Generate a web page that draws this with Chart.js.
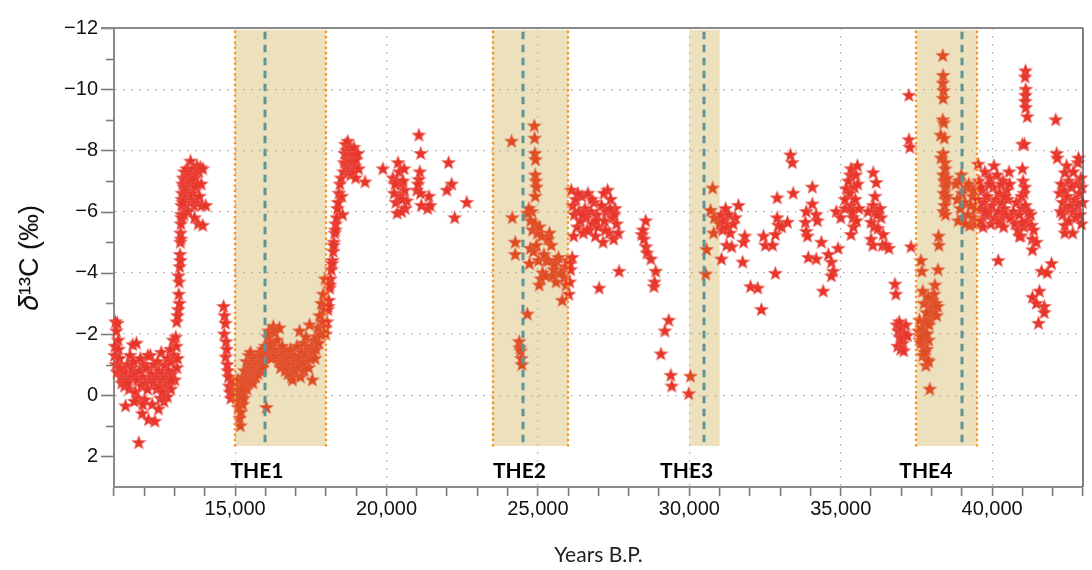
<!DOCTYPE html>
<html>
<head>
<meta charset="utf-8">
<script src="https://cdn.jsdelivr.net/npm/chart.js@4/dist/chart.umd.min.js"></script>
<style>
  body { margin: 0; background: #fff; }
  #wrap { width: 1092px; height: 570px; }
</style>
</head>
<body>
<div id="wrap"><canvas id="chart" width="1092" height="570"></canvas></div>
<script>
// delta13C record, [years B.P., d13C permil]
const lateGlacial = [
  [11020,-1.3],[11050,-2.4],[11080,-2.1],[11110,-2.35],[11140,-1.8],[11030,-1.6],[11060,-1.0],[11100,-0.75],
  [11150,-1.5],[11180,-1.2],[11200,-0.9],[11230,-0.6],[11260,-0.4],[11290,-0.8],[11320,-0.5],[11350,-0.3],
  [11380,0.35],[11410,-0.7],[11440,-1.0],[11470,-0.5],[11500,-0.2],[11530,-1.3],[11560,-0.6],[11590,-0.9],
  [11620,-1.65],[11650,-1.1],[11680,-0.7],[11710,-0.1],[11740,-1.7],[11770,-0.5],[11800,0.1],[11820,1.55],
  [11840,-0.8],[11870,-1.2],[11900,-0.3],[11930,0.6],[11960,-0.6],[11990,-1.0],[12020,0.15],[12050,-0.4],
  [12080,-0.9],[12110,-0.2],[12140,0.8],[12170,-0.5],[12200,-1.3],[12230,-0.7],[12260,0.3],[12290,-0.4],
  [12320,-1.0],[12350,0.85],[12380,-0.6],[12410,-0.2],[12440,-1.1],[12470,-0.8],[12500,-0.3],[12530,0.1],
  [12560,-1.4],[12590,-0.7],[12620,-0.5],[12650,0.2],[12680,-1.0],[12710,-0.6],[12740,-0.3],[12770,-1.2],
  [12800,-0.8],[12830,-0.4],[12860,-1.5],[12890,-1.1],[12920,-0.7],[12950,-1.8],[12980,-1.3],[13010,-0.5],
  [13040,-1.9],[13060,-1.6],[13080,-0.9],[13100,-1.2],[12880,-0.2],[12760,0.05],[12470,0.45],[11950,0.3],
  [11670,0.2],[12120,-1.3],[11450,-0.4],[12600,-0.1],[12900,-0.5]
];
const bollingRise = [
  [13070,-2.4],[13120,-2.8],[13140,-3.3],[13150,-3.7],[13170,-4.2],[13180,-4.6],[13190,-5.0],[13200,-5.3],
  [13210,-5.6],[13220,-5.9],[13230,-6.2],[13240,-6.4],[13160,-3.0],[13190,-4.4],[13210,-5.1],[13230,-5.8],
  [13250,-6.6],[13260,-6.9],[13280,-7.1],[13300,-6.8],[13320,-7.3],[13340,-6.5],[13360,-7.0],[13380,-6.2],
  [13400,-7.4],[13420,-6.7],[13440,-7.1],[13460,-6.0],[13480,-7.2],[13530,-7.65],[13520,-6.9],[13540,-6.4],
  [13560,-7.3],[13580,-7.0],[13600,-6.6],[13620,-7.4],[13640,-6.2],[13660,-5.8],[13680,-7.1],[13700,-6.8],
  [13720,-6.3],[13740,-7.5],[13760,-6.9],[13780,-5.6],[13800,-7.3],[13820,-6.5],[13850,-7.45],[13880,-6.9],
  [13900,-6.2],[13930,-5.55],[14030,-6.2],[13930,-7.4],[13270,-6.3],[13310,-5.9],[13100,-2.6],[13130,-3.9]
];
const preThe1 = [
  [14620,-2.9],[14650,-2.6],[14680,-2.35],[14640,-2.0],[14700,-1.75],[14720,-1.5],[14690,-1.25],[14740,-1.0],
  [14760,-0.8],[14780,-0.6],[14800,-0.3],[14830,-0.1],[14860,0.1],[14900,-0.2],[14950,-0.4],[14980,0.0]
];
const the1Pts = [
  [15020,-0.3],[15050,0.1],[15080,-0.5],[15100,0.4],[15120,-0.2],[15150,0.75],[15170,1.0],[15190,0.55],
  [15210,0.2],[15230,-0.4],[15250,0.3],[15270,-0.6],[15290,-0.1],[15310,-0.8],[15330,-0.3],[15350,-0.5],
  [15370,-1.1],[15390,-0.2],[15410,-0.7],[15430,-0.4],[15450,-1.3],[15470,-0.6],[15490,-0.9],[15510,-1.4],
  [15530,-0.5],[15550,-0.8],[15570,-1.0],[15590,-0.4],[15610,-0.7],[15630,-1.1],[15650,-0.9],[15670,-0.6],
  [15690,-1.2],[15710,-0.8],[15730,-1.0],[15750,-0.7],[15770,-1.3],[15790,-0.9],[15810,-1.1],[15830,-0.8],
  [15850,-1.4],[15870,-1.0],[15890,-1.2],[15910,-0.9],[15930,-1.5],[15950,-1.1],[15970,-1.3],[15990,-1.6],
  [16030,0.4],[15060,-0.1],[15110,0.2],[15140,-0.1],[15200,0.0],[15240,-0.2],[15280,0.1],
  [16050,-1.4],[16080,-1.9],[16110,-2.1],[16140,-1.5],[16170,-1.7],[16200,-1.2],[16230,-1.6],[16260,-2.25],
  [16290,-1.4],[16320,-2.05],[16350,-1.3],[16380,-1.8],[16460,-2.2],[16440,-1.1],[16470,-1.5],[16500,-0.9],
  [16530,-1.3],[16560,-1.6],[16590,-1.0],[16620,-1.2],[16650,-0.8],[16680,-1.4],[16710,-1.1],[16740,-0.7],
  [16770,-1.3],[16800,-0.9],[16830,-1.5],[16860,-0.6],[16890,-0.5],[16920,-1.0],[16950,-1.3],[16980,-0.8],
  [17010,-1.1],[17040,-1.6],[17070,-0.9],[17100,-1.2],[17130,-2.1],[17160,-0.6],[17190,-1.4],[17220,-1.0],
  [17250,-1.7],[17280,-0.8],[17310,-1.3],[17340,-1.9],[17370,-1.1],[17400,-1.5],[17430,-0.9],[17460,-2.3],
  [17490,-1.2],[17520,-1.6],[17550,-0.5],[17580,-1.4],[17610,-1.8],[17640,-1.2],[17670,-1.5],[17700,-1.9],
  [17730,-2.2],[17760,-1.7],[17790,-2.6],[17820,-2.0],[17850,-3.0],[17880,-2.4],[17910,-3.3],[17940,-2.8],
  [17970,-3.8],[17990,-2.2]
];
const deglacialRise = [
  [17990,-2.0],[18030,-2.4],[18060,-2.8],[18090,-3.1],[18120,-3.5],[18150,-3.8],[18180,-4.1],[18210,-4.4],
  [18240,-4.7],[18260,-5.0],[18290,-5.3],[18320,-5.6],[18350,-5.8],[18380,-6.1],[18070,-2.9],[18130,-3.6],
  [18200,-4.3],[18250,-4.9],[18310,-5.4],[18400,-6.3],[18430,-6.6],[18460,-6.9],[18500,-7.1],[18520,-6.5],
  [18550,-5.9],[18580,-7.3],[18600,-7.6],[18620,-7.9],[18640,-8.2],[18660,-7.5],[18680,-8.0],[18700,-7.7],
  [18720,-8.3],[18740,-7.4],[18760,-7.9],[18780,-8.1],[18800,-7.6],[18820,-7.2],[18840,-8.0],[18860,-7.7],
  [18880,-7.3],[18900,-7.9],[18920,-8.1],[18950,-7.5],[18980,-7.1],[19000,-7.7],[19050,-7.9],[19080,-7.4],
  [19290,-6.97]
];
const glacialScatter = [
  [19880,-7.4],[20210,-7.1],[20380,-7.6],[20310,-6.3],[20670,-6.35],[20600,-6.7],[20330,-7.0],[20420,-7.3],
  [20450,-6.5],[20480,-6.9],[20250,-6.6],[20520,-6.4],[20550,-7.0],[20620,-6.1],[20350,-5.95],[20500,-6.0],
  [20580,-7.4],[20280,-6.9],[21070,-8.5],[21130,-7.9],[21100,-7.3],[21070,-7.05],[21000,-6.7],[21040,-6.9],
  [21120,-6.6],[21150,-6.2],[21400,-6.5],[21360,-6.1],[21440,-6.2],[22050,-7.6],[22150,-6.9],[21990,-6.7],
  [22250,-5.8],[22650,-6.3]
];
const the2Pts = [
  [24130,-8.3],[24150,-5.8],[24250,-5.0],[24250,-4.6],[24380,-1.75],[24400,-1.55],[24450,-1.2],[24470,-1.0],
  [24430,-1.45],[24650,-2.65],[24880,-8.8],[24890,-8.4],[24900,-7.9],[24920,-7.7],[24910,-7.2],[24930,-7.0],
  [24950,-6.8],[24910,-6.5],[24800,-6.0],[24650,-5.95],[24700,-6.1],[24760,-5.7],[24820,-5.4],[24900,-5.6],
  [24980,-5.3],[25050,-5.5],[24750,-4.8],[24720,-4.3],[24850,-4.7],[24950,-4.9],[25020,-4.4],[25150,-4.0],
  [25100,-3.8],[25380,-5.3],[25440,-4.9],[25280,-4.4],[25600,-4.4],[25480,-3.9],[25600,-3.7],[25870,-3.85],
  [25930,-3.6],[25800,-3.1],[25200,-4.6],[25250,-3.9],[25330,-5.1],[25350,-4.4],[25520,-4.1],[25550,-4.3],
  [25680,-4.5],[25750,-4.0],[25900,-4.2],[25980,-4.4],[25120,-5.2],[25040,-3.6]
];
const stadialA = [
  [26130,-4.5],[26080,-4.1],[26050,-3.7],[26020,-3.3],[26060,-4.3],[26100,-6.7],[26150,-6.2],[26200,-5.9],
  [26250,-6.4],[26300,-5.5],[26350,-6.0],[26400,-5.7],[26450,-6.5],[26500,-5.3],[26550,-6.1],[26600,-5.8],
  [26650,-6.6],[26700,-5.4],[26750,-6.0],[26800,-5.6],[26850,-6.3],[26900,-5.2],[26950,-5.9],[27000,-5.5],
  [27100,-6.2],[27150,-5.0],[27200,-5.7],[27250,-6.0],[27300,-6.7],[27350,-5.3],[27400,-6.4],[27450,-5.8],
  [27500,-5.1],[27550,-6.1],[27600,-5.6],[27650,-5.3],[26180,-5.2],[26320,-6.6],[26480,-5.9],[26620,-5.4],
  [26780,-6.4],[26920,-5.7],[27180,-6.6],[27230,-5.4],[27380,-6.1],[27520,-5.9],[27020,-3.5],[27680,-4.05],
  [28430,-5.25],[28560,-5.7],[28500,-5.1],[28570,-4.85],[28600,-4.65],[28730,-4.45],[28890,-4.05],
  [28830,-3.55],[28850,-3.7],[28470,-5.4],[29320,-2.45],[29190,-2.1],[29060,-1.35],[29390,-0.65],
  [29420,-0.3],[29980,-0.05]
];
const the3Pts = [
  [30035,-0.62],[30770,-6.77],[30700,-6.04],[30570,-4.76],[30540,-3.96],[30830,-5.8],[30800,-5.3]
];
const stadialB = [
  [31000,-5.6],[31050,-5.9],[31200,-6.1],[31620,-6.2],[31520,-5.8],[31100,-5.4],[31150,-5.7],[31250,-5.5],
  [31300,-5.9],[31350,-5.3],[31450,-5.6],[31060,-4.45],[31230,-4.9],[31400,-4.85],[31790,-5.0],[31830,-5.2],
  [31760,-4.35],[32020,-3.55],[32260,-3.5],[32380,-2.8],[32450,-5.2],[32510,-4.9],[32840,-3.98],[32750,-4.9],
  [32840,-5.25],[32940,-5.55],[32900,-5.8],[33050,-5.5],[33240,-5.65],[32900,-6.45],[33430,-6.6],
  [33340,-7.85],[33400,-7.6],[33860,-6.0],[34060,-6.8],[34060,-6.25],[34190,-5.9],[34230,-5.7],[33830,-5.65],
  [33860,-5.35],[33900,-5.2],[33930,-4.5],[34190,-4.45],[34420,-3.4],[34360,-5.0],[34590,-4.6],[34690,-4.35],
  [34750,-4.05],[34690,-3.9],[34910,-4.8],[34850,-6.0],[35000,-5.8],[35140,-6.1],[35140,-6.4],[35180,-6.75],
  [35310,-7.2],[35340,-7.4],[35340,-5.25],[35250,-7.0],[35300,-6.6],[35350,-6.2],[35400,-5.8],[35450,-6.8],
  [35500,-7.2],[35550,-7.5],[35420,-5.5],[35380,-6.0],[35480,-6.4],[35560,-6.9],[35520,-5.7],[35600,-6.1],
  [36070,-7.27],[36170,-6.95],[36130,-6.5],[36070,-6.2],[36150,-6.0],[36300,-6.1],[36330,-5.8],[36000,-5.65],
  [36100,-5.5],[36230,-5.45],[36400,-5.25],[36000,-5.1],[36060,-4.9],[36380,-4.9],[36490,-4.9],[36590,-4.8],
  [36200,-5.9],[35900,-6.0],[36790,-3.63],[36820,-3.3],[37250,-9.8],[37250,-8.35],[37280,-8.1],[37320,-4.85],
  [36850,-2.3],[36900,-2.1],[36950,-1.9],[37000,-2.2],[37050,-1.7],[37100,-2.0],[36880,-1.6],[36980,-1.5],
  [37030,-1.8],[37150,-2.3],[37200,-1.95],[36930,-2.4],[37080,-1.45]
];
const the4Pts = [
  [37560,-2.1],[37600,-2.45],[37620,-1.95],[37650,-1.7],[37680,-2.2],[37710,-1.3],[37740,-1.6],[37770,-2.0],
  [37810,-0.97],[37840,-1.5],[37870,-1.15],[37900,-1.8],[37940,-0.2],[37960,-2.5],[37990,-2.9],[38020,-3.1],
  [38050,-2.7],[38080,-3.3],[38110,-3.6],[38140,-3.0],[38170,-2.6],[38200,-2.9],[37680,-4.05],[37650,-4.4],
  [37710,-3.4],[37750,-3.0],[37790,-2.4],[37830,-2.7],[37880,-3.2],[37920,-2.3],[38210,-4.1],[38230,-5.2],
  [38240,-4.9],[37600,-1.8],[37700,-1.9],[37780,-1.4],[37850,-2.0],[37900,-1.1],
  [38370,-11.1],[38380,-10.45],[38370,-10.2],[38390,-9.95],[38380,-9.7],[38370,-9.0],[38400,-8.9],[38300,-8.5],
  [38420,-8.4],[38380,-7.9],[38310,-7.75],[38440,-7.6],[38450,-7.4],[38380,-7.2],[38420,-7.0],[38450,-6.8],
  [38400,-6.6],[38470,-6.4],[38430,-6.2],[38390,-6.0],[38480,-6.9],[38500,-6.5],[38460,-5.9],[38510,-7.1],
  [38800,-6.9],[38850,-6.4],[38900,-7.0],[38950,-6.1],[39000,-6.6],[39050,-5.8],[39100,-6.3],[39150,-6.8],
  [39200,-5.9],[39260,-5.55],[39300,-6.2],[39350,-6.5],[39400,-5.8],[39450,-6.1],[38880,-5.7],[38980,-7.2],
  [39120,-5.6],[39230,-6.9],[39380,-6.7],[39480,-5.6]
];
const stadialC = [
  [39520,-6.4],[39560,-7.0],[39600,-6.1],[39640,-5.7],[39680,-6.7],[39720,-6.3],[39760,-7.3],[39800,-5.9],
  [39840,-6.5],[39880,-6.0],[39920,-7.1],[39960,-5.6],[40000,-6.2],[40040,-6.8],[40080,-5.8],[40120,-6.4],
  [40160,-7.2],[40200,-6.0],[40240,-6.6],[40280,-5.7],[40320,-6.3],[40360,-7.0],[40400,-6.1],[40440,-5.9],
  [40480,-6.7],[40520,-6.4],[40560,-7.3],[40600,-5.8],[39540,-7.55],[39700,-5.5],[39900,-6.9],[40060,-7.5],
  [40200,-4.4],[40300,-6.9],[40420,-6.5],[40580,-6.9],[39620,-6.8],[39780,-6.0],[40220,-5.6],[40380,-5.5],
  [40700,-6.0],[40750,-5.6],[40800,-6.3],[40850,-5.4],[40900,-5.9],[40950,-5.2],[41000,-6.1],[41050,-5.5],
  [41100,-6.2],[41150,-5.7],[41200,-6.0],[41000,-7.4],[41020,-7.0],[41050,-6.6],[41080,-6.8],[40970,-6.5],
  [41100,-10.6],[41090,-10.4],[41110,-10.0],[41100,-9.8],[41090,-9.6],[41110,-9.4],[41160,-9.1],[41000,-8.2],
  [41070,-8.2],[41300,-5.55],[41320,-5.1],[41330,-4.75],[41460,-5.0],[41370,-5.4],[41270,-5.9],[40990,-5.65],
  [40900,-5.2],[41630,-4.05],[41820,-4.0],[41960,-4.3],[41560,-3.4],[41330,-3.2],[41460,-3.0],[41720,-2.9],
  [41720,-2.7],[41530,-2.35],
  [42100,-9.0],[42130,-7.9],[42150,-7.75],[42460,-7.5],[42400,-7.27],[42830,-7.6],[42850,-7.75],[42230,-6.6],
  [42280,-6.9],[42330,-6.3],[42380,-6.7],[42430,-6.1],[42480,-6.5],[42530,-7.0],[42580,-6.2],[42630,-6.8],
  [42680,-6.0],[42730,-6.4],[42780,-6.9],[42830,-6.2],[42880,-6.6],[42930,-7.1],[42980,-6.3],[42960,-6.8],
  [42330,-5.9],[42400,-5.55],[42400,-5.3],[42660,-5.3],[42530,-5.7],[42780,-5.8],[42950,-5.6],[42260,-6.0],
  [42680,-7.3],[42900,-5.9]
];

// Thermal events: shaded window, dashed mid line, label
const eventNames = ['THE1', 'THE2', 'THE3', 'THE4'];
const eventStart = [15000, 23500, 30000, 37500];
const eventEnd = [18000, 26000, 31000, 39500];
const eventMid = [16000, 24500, 30500, 39000];
const eventEdged = [true, true, false, true];
const eventLabelX = [15720, 24390, 29910, 37810];
const eventLabelY = 2.5;
const bandTop = -11.94;
const bandBottom = 1.66;

const allPoints = [].concat(lateGlacial, bollingRise, preThe1, the1Pts, deglacialRise, glacialScatter,
  the2Pts, stadialA, the3Pts, stadialB, the4Pts, stadialC).map(p => ({ x: p[0], y: p[1] }));

function makeStar(color) {
  const c = document.createElement('canvas');
  c.width = c.height = 17;
  const g = c.getContext('2d');
  g.beginPath();
  for (let i = 0; i < 10; i++) {
    const r = i % 2 === 0 ? 7.5 : 3.1;
    const a = -Math.PI / 2 + i * Math.PI / 5;
    g.lineTo(8.5 + r * Math.cos(a), 8.8 + r * Math.sin(a));
  }
  g.closePath();
  g.fillStyle = color;
  g.fill();
  g.strokeStyle = 'rgba(236,110,100,0.45)';
  g.lineWidth = 0.8;
  g.stroke();
  return c;
}
const redStar = makeStar('#e8352a');
const bandStar = makeStar('#de4c20');

function inBand(x) {
  return eventStart.some((s, i) => x >= s && x <= eventEnd[i]);
}

const eventPlugin = {
  id: 'events',
  beforeDraw(chart) {
    const { ctx, scales: { x, y } } = chart;
    const top = y.getPixelForValue(bandTop), bot = y.getPixelForValue(bandBottom);
    ctx.save();
    ctx.fillStyle = '#ede0bd';
    eventStart.forEach((s, i) => {
      const l = x.getPixelForValue(s), r = x.getPixelForValue(eventEnd[i]);
      ctx.fillRect(l, top, r - l, bot - top);
    });
    ctx.restore();
  },
  afterDatasetsDraw(chart) {
    const { ctx, scales: { x, y } } = chart;
    const top = y.getPixelForValue(bandTop), bot = y.getPixelForValue(bandBottom);
    ctx.save();
    // orange dotted edges
    ctx.strokeStyle = '#f7931e';
    ctx.lineWidth = 2.6;
    ctx.lineCap = 'round';
    ctx.setLineDash([0.1, 5.2]);
    eventStart.forEach((s, i) => {
      if (!eventEdged[i]) return;
      [s, eventEnd[i]].forEach(v => {
        const px = Math.round(x.getPixelForValue(v));
        ctx.beginPath();
        ctx.moveTo(px, top + 2);
        ctx.lineTo(px, bot);
        ctx.stroke();
      });
    });
    // teal dashed mid lines
    ctx.strokeStyle = '#5e9495';
    ctx.lineWidth = 3;
    ctx.lineCap = 'butt';
    ctx.setLineDash([7.5, 5.5]);
    eventMid.forEach(v => {
      const px = Math.round(x.getPixelForValue(v));
      ctx.beginPath();
      ctx.moveTo(px, top + 2);
      ctx.lineTo(px, bot);
      ctx.stroke();
    });
    ctx.setLineDash([]);
    // labels
    ctx.fillStyle = '#000';
    ctx.font = 'bold 21px Lato';
    ctx.textAlign = 'center';
    ctx.textBaseline = 'middle';
    eventNames.forEach((n, i) => {
      ctx.fillText(n, x.getPixelForValue(eventLabelX[i]), y.getPixelForValue(eventLabelY));
    });
    ctx.restore();
  },
  afterDraw(chart) {
    const { ctx, chartArea: a, scales: { y } } = chart;
    ctx.save();
    // y tick marks, long on labelled values
    ctx.strokeStyle = '#7a7a7a';
    ctx.lineWidth = 1.6;
    y.ticks.forEach(t => {
      if (t.value > 2) return;
      const py = Math.round(y.getPixelForValue(t.value)) + 0.5;
      const len = t.value % 2 === 0 ? 13 : 8;
      ctx.beginPath();
      ctx.moveTo(a.left - len, py);
      ctx.lineTo(a.left, py);
      ctx.stroke();
    });
    // frame: top and right
    ctx.strokeStyle = '#8a8a8a';
    ctx.lineWidth = 2;
    ctx.beginPath();
    ctx.moveTo(a.left - 13, a.top);
    ctx.lineTo(a.right, a.top);
    ctx.stroke();
    ctx.strokeStyle = '#555';
    ctx.lineWidth = 1.5;
    ctx.beginPath();
    ctx.moveTo(a.right, a.top);
    ctx.lineTo(a.right, a.bottom);
    ctx.stroke();
    ctx.restore();
  }
};

new Chart(document.getElementById('chart'), {
  type: 'scatter',
  data: {
    datasets: [{
      data: allPoints,
      pointStyle: ctx => (ctx.raw && inBand(ctx.raw.x) ? bandStar : redStar),
      pointRadius: 7,
      clip: 10
    }]
  },
  options: {
    responsive: false,
    animation: false,
    events: [],
    layout: { padding: { top: 19, right: 9, left: 0, bottom: 0 } },
    plugins: { legend: { display: false }, tooltip: { enabled: false } },
    scales: {
      x: {
        type: 'linear',
        min: 11000,
        max: 43000,
        afterFit: s => { s.height = 83; },
        border: { color: '#8a8a8a', width: 2, dash: [1.5, 6.5] },
        grid: {
          color: c => (c.tick && c.tick.value % 5000 === 0 ? '#a3a3a3' : 'rgba(0,0,0,0)'),
          lineWidth: 1.2,
          tickLength: 9,
          tickColor: '#7a7a7a',
          tickWidth: 1.6,
          tickBorderDash: []
        },
        ticks: {
          stepSize: 1000,
          autoSkip: false,
          maxRotation: 0,
          padding: 1,
          color: '#111',
          font: { family: 'Liberation Sans', size: 20 },
          callback: v => (v % 5000 === 0 ? v.toLocaleString('en-US') : '')
        },
        title: {
          display: true,
          text: 'Years B.P.',
          color: '#222',
          font: { family: 'Lato', size: 21 },
          padding: { top: 0, bottom: 2 }
        }
      },
      y: {
        type: 'linear',
        reverse: true,
        min: -12,
        max: 3,
        afterFit: s => { s.width = 114; },
        border: { color: '#8a8a8a', width: 2, dash: [1.5, 6.5] },
        grid: {
          drawTicks: false,
          lineWidth: 1.2,
          color: c => (c.tick && c.tick.value % 2 === 0 && c.tick.value > -12 && c.tick.value < 2 ? '#a3a3a3' : 'rgba(0,0,0,0)')
        },
        ticks: {
          stepSize: 1,
          autoSkip: false,
          padding: 16,
          color: '#111',
          font: { family: 'Liberation Sans', size: 20 },
          callback: v => (v % 2 === 0 && v <= 2 ? (v < 0 ? '\u2212' + Math.abs(v) : String(v)) : '')
        },
        title: {
          display: true,
          text: '\u{1D6FF}\u00B9\u00B3C (\u2030)',
          color: '#111',
          font: { family: 'Liberation Sans', size: 27 },
          padding: { top: 14, bottom: 0 }
        }
      }
    }
  },
  plugins: [eventPlugin]
});
</script>
</body>
</html>
